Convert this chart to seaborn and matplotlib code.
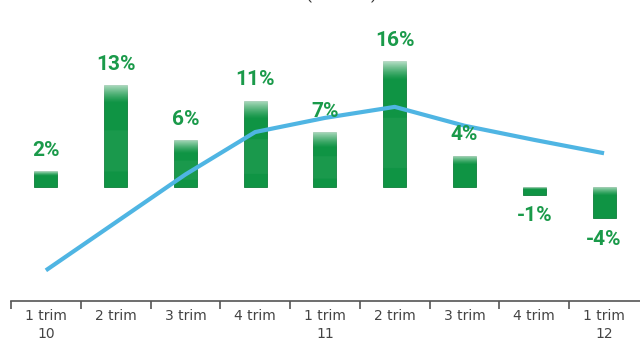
import numpy as np
import pandas as pd
import matplotlib
matplotlib.use("Agg")
import matplotlib.pyplot as plt
import seaborn as sns

# ---- data ----
categories = ["1 trim\n10", "2 trim", "3 trim", "4 trim", "1 trim\n11",
              "2 trim", "3 trim", "4 trim", "1 trim\n12"]
bar_values = [2, 13, 6, 11, 7, 16, 4, -1, -4]
bar_labels = ["2%", "13%", "6%", "11%", "7%", "16%", "4%", "-1%", "-4%"]
line_values = [-10.6, -4.5, 1.6, 7.0, 8.8, 10.2, 7.8, 6.0, 4.3]
title_text = "(% anual)"

GREEN = "#0f9444"
LABEL_GREEN = "#1a9a4a"
BLUE = "#4fb5e3"
GRAY = "#555555"

sns.set_theme(style="white")
plt.rcParams["font.family"] = ["Roboto", "DejaVu Sans"]

fig = plt.figure(figsize=(6.4, 3.39), dpi=100)
ax = fig.add_axes([11 / 640, 38 / 339, 1 - 11 / 640, 301 / 339])

df = pd.DataFrame({"cat": range(len(categories)), "val": bar_values})
sns.barplot(data=df, x="cat", y="val", color=GREEN, saturation=1,
            width=0.33, ax=ax, zorder=2, edgecolor="#0b7d38", linewidth=0.6)

xlim = (-0.5, 8.515)
ylim = (-14.5, 23.8)

# glossy highlight on each bar
for patch in list(ax.patches):
    x0, y0 = patch.get_x(), patch.get_y()
    w, h = patch.get_width(), patch.get_height()
    ybot, ytop = min(y0, y0 + h), max(y0, y0 + h)
    hh = ytop - ybot
    n = 200
    d = np.linspace(0, hh, n)  # distance from top
    glen = min(2.4, 0.3 * hh)
    alpha = 0.7 * np.clip(1 - d / glen, 0, 1) ** 1.3
    sheen = np.where((d > hh * 0.45) & (d < hh * 0.85) & (hh > 5), 0.05, 0.0)
    alpha = np.maximum(alpha, sheen)
    img = np.ones((n, 1, 4))
    img[:, 0, 3] = alpha
    im = ax.imshow(img, extent=(x0, x0 + w, ybot, ytop), origin="upper",
                   aspect="auto", zorder=2.5, interpolation="bilinear")
    im.set_clip_path(patch)

# line
sns.lineplot(x=np.arange(len(line_values)), y=line_values, ax=ax,
             color=BLUE, linewidth=3.0, zorder=3, solid_capstyle="butt")

# value labels
for i, (v, lab) in enumerate(zip(bar_values, bar_labels)):
    if v >= 0:
        ax.annotate(lab, (i, v), xytext=(0, 8), textcoords="offset points",
                    ha="center", va="bottom", fontsize=15,
                    fontweight="bold", color=LABEL_GREEN, zorder=4)
    else:
        ax.annotate(lab, (i, v), xytext=(0, -8), textcoords="offset points",
                    ha="center", va="top", fontsize=15,
                    fontweight="bold", color=LABEL_GREEN, zorder=4)

ax.set_xlim(*xlim)
ax.set_ylim(*ylim)

# axes styling
for s in ["top", "right", "left"]:
    ax.spines[s].set_visible(False)
ax.spines["bottom"].set_color(GRAY)
ax.spines["bottom"].set_linewidth(1.2)
ax.set_yticks([])
ax.set_xlabel("")
ax.set_ylabel("")
ax.set_xticks(range(len(categories)))
ax.set_xticklabels(categories, fontsize=10, color="#444444", linespacing=1.3)
ax.set_xticks(np.arange(-0.5, len(categories) - 1, 1.0), minor=True)
ax.tick_params(axis="x", which="major", length=0, pad=6)
ax.tick_params(axis="x", which="minor", length=6, width=1.2, color=GRAY,
               direction="out", bottom=True)
for t in ax.get_xticklabels():
    t.set_fontfamily(["DejaVu Sans"])

fig.text(342 / 640, 1 + 0.5 / 339, title_text, ha="center", va="baseline",
         fontsize=12.5, color="#333333")

fig.savefig("out.png", dpi=100)
